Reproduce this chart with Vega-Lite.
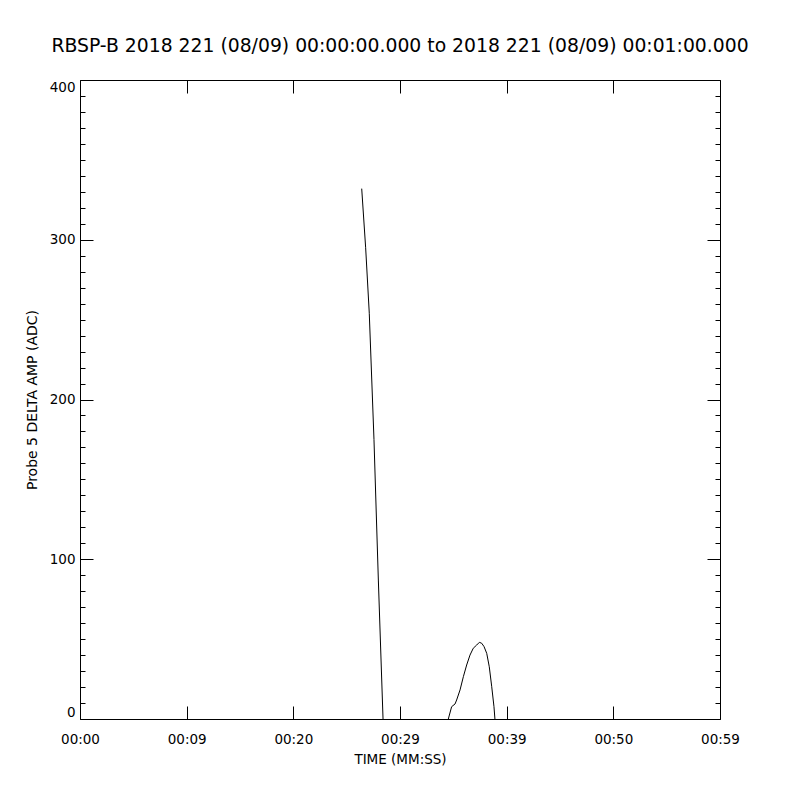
{
  "$schema": "https://vega.github.io/schema/vega-lite/v6.json",
  "autosize": "none",
  "width": 640,
  "height": 639,
  "padding": {"left": 80, "top": 80, "right": 80, "bottom": 81},
  "background": "white",
  "title": {
    "text": "RBSP-B 2018 221 (08/09) 00:00:00.000 to 2018 221 (08/09) 00:01:00.000",
    "font": "DejaVu Sans",
    "fontSize": 18.8,
    "fontWeight": "normal",
    "color": "black",
    "anchor": "middle",
    "baseline": "alphabetic",
    "offset": 9
  },
  "data": {
    "values": [
      {"seg": "a", "t": 26.41, "v": 332},
      {"seg": "a", "t": 26.78, "v": 295},
      {"seg": "a", "t": 27.12, "v": 254},
      {"seg": "a", "t": 27.56, "v": 175},
      {"seg": "a", "t": 27.97, "v": 87},
      {"seg": "a", "t": 28.41, "v": 0},
      {"seg": "b", "t": 34.53, "v": 0},
      {"seg": "b", "t": 34.84, "v": 7.7},
      {"seg": "b", "t": 35.16, "v": 9.4},
      {"seg": "b", "t": 35.31, "v": 11.9},
      {"seg": "b", "t": 35.63, "v": 18.2},
      {"seg": "b", "t": 35.94, "v": 26.5},
      {"seg": "b", "t": 36.25, "v": 33.8},
      {"seg": "b", "t": 36.56, "v": 40},
      {"seg": "b", "t": 36.87, "v": 44.3},
      {"seg": "b", "t": 37.19, "v": 46.3},
      {"seg": "b", "t": 37.44, "v": 48},
      {"seg": "b", "t": 37.66, "v": 47.4},
      {"seg": "b", "t": 37.88, "v": 45.3},
      {"seg": "b", "t": 38.13, "v": 41.1},
      {"seg": "b", "t": 38.37, "v": 32.7},
      {"seg": "b", "t": 38.6, "v": 20.2},
      {"seg": "b", "t": 38.81, "v": 7.7},
      {"seg": "b", "t": 38.9, "v": 0}
    ]
  },
  "layer": [
    {
      "mark": {"type": "line", "color": "black", "strokeWidth": 1, "clip": true},
      "encoding": {
        "detail": {"field": "seg", "type": "nominal"},
        "x": {
          "field": "t", "type": "quantitative",
          "scale": {"domain": [0, 60], "nice": false, "zero": false},
          "axis": {
            "orient": "bottom",
            "values": [0, 10, 20, 30, 40, 50, 60],
            "labelExpr": "['00:00','00:09','00:20','00:29','00:39','00:50','00:59'][round(datum.value/10)]",
            "tickSize": -13,
            "labelPadding": 26.5,
            "labelFlush": false,
            "title": "TIME (MM:SS)",
            "titleFontSize": 13.5,
            "titlePadding": 6
          }
        },
        "y": {
          "field": "v", "type": "quantitative",
          "scale": {"domain": [0, 400], "nice": false},
          "axis": {
            "orient": "left",
            "values": [0, 100, 200, 300, 400],
            "tickSize": -13,
            "labelPadding": 18,
            "labelFlush": true,
            "title": "Probe 5 DELTA AMP (ADC)",
            "titleFontSize": 14,
            "titlePadding": 10
          }
        }
      }
    },
    {
      "mark": {"type": "line", "opacity": 0},
      "encoding": {
        "x": {
          "field": "t", "type": "quantitative",
          "axis": {"orient": "top", "values": [0, 10, 20, 30, 40, 50, 60], "tickSize": -13, "labels": false, "title": null}
        },
        "y": {
          "field": "v", "type": "quantitative",
          "axis": {"orient": "right", "values": [0, 100, 200, 300, 400], "tickSize": -13, "labels": false, "title": null}
        }
      }
    },
    {
      "mark": {"type": "line", "opacity": 0},
      "encoding": {
        "x": {"field": "t", "type": "quantitative", "axis": null},
        "y": {
          "field": "v", "type": "quantitative",
          "axis": {"orient": "left", "values": [10,20,30,40,50,60,70,80,90,110,120,130,140,150,160,170,180,190,210,220,230,240,250,260,270,280,290,310,320,330,340,350,360,370,380,390], "tickSize": -5, "labels": false, "title": null}
        }
      }
    },
    {
      "mark": {"type": "line", "opacity": 0},
      "encoding": {
        "x": {"field": "t", "type": "quantitative", "axis": null},
        "y": {
          "field": "v", "type": "quantitative",
          "axis": {"orient": "right", "values": [10,20,30,40,50,60,70,80,90,110,120,130,140,150,160,170,180,190,210,220,230,240,250,260,270,280,290,310,320,330,340,350,360,370,380,390], "tickSize": -5, "labels": false, "title": null}
        }
      }
    }
  ],
  "resolve": {"axis": {"x": "independent", "y": "independent"}},
  "config": {
    "view": {"stroke": "black", "strokeWidth": 1},
    "axis": {
      "domain": false,
      "grid": false,
      "tickColor": "black",
      "tickWidth": 1,
      "labelColor": "black",
      "titleColor": "black",
      "labelFont": "DejaVu Sans",
      "titleFont": "DejaVu Sans",
      "labelFontSize": 13.5,
      "titleFontWeight": "normal"
    }
  }
}
